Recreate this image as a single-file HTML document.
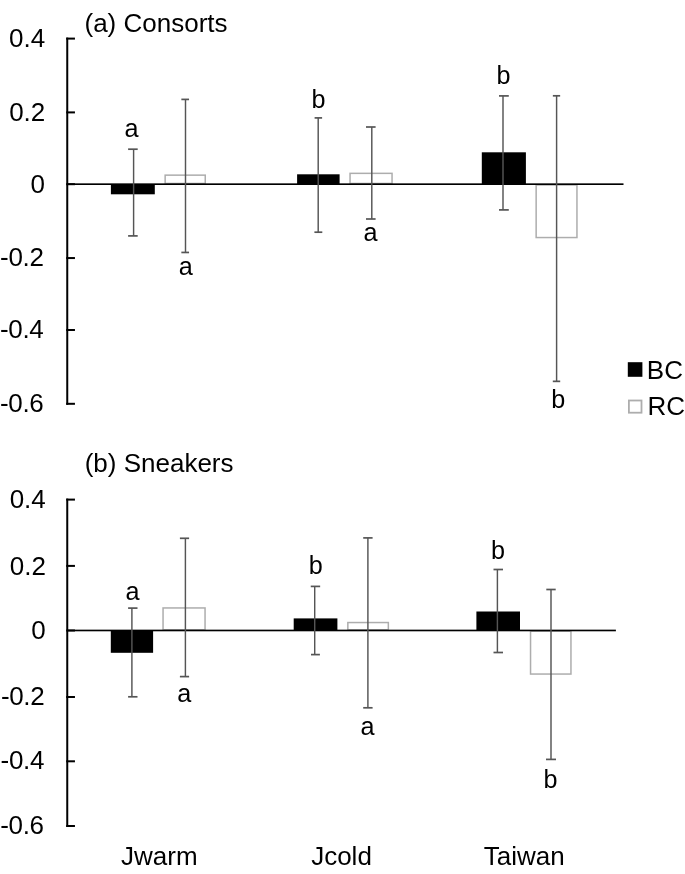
<!DOCTYPE html>
<html><head><meta charset="utf-8"><style>
html,body{margin:0;padding:0;background:#fff;}
svg{display:block;font-family:"Liberation Sans", sans-serif;will-change:transform;}
</style></head><body>
<svg width="685" height="874" viewBox="0 0 685 874" fill="#000">
<rect width="685" height="874" fill="#fff"/>
<rect x="66.25" y="37.60" width="2.00" height="367.20" fill="#000"/>
<rect x="66.25" y="37.60" width="8.70" height="2.00" fill="#000"/>
<rect x="66.25" y="111.40" width="8.70" height="2.00" fill="#000"/>
<rect x="66.25" y="183.20" width="8.70" height="2.00" fill="#000"/>
<rect x="66.25" y="257.05" width="8.70" height="2.00" fill="#000"/>
<rect x="66.25" y="329.00" width="8.70" height="2.00" fill="#000"/>
<rect x="66.25" y="402.80" width="8.70" height="2.00" fill="#000"/>
<text x="45.20" y="47.00" text-anchor="end" font-size="26">0.4</text>
<text x="45.30" y="120.65" text-anchor="end" font-size="26">0.2</text>
<text x="45.00" y="192.75" text-anchor="end" font-size="26">0</text>
<text x="43.90" y="266.30" text-anchor="end" font-size="26" textLength="43.80" lengthAdjust="spacing">-0.2</text>
<text x="43.80" y="338.35" text-anchor="end" font-size="26" textLength="43.80" lengthAdjust="spacing">-0.4</text>
<text x="43.80" y="411.60" text-anchor="end" font-size="26" textLength="43.80" lengthAdjust="spacing">-0.6</text>
<rect x="110.90" y="184.20" width="43.90" height="10.10" fill="#000"/>
<rect x="165.15" y="175.15" width="40.10" height="8.30" fill="#fff" stroke="#adadad" stroke-width="1.5"/>
<rect x="297.10" y="174.30" width="42.50" height="9.90" fill="#000"/>
<rect x="350.05" y="173.35" width="42.00" height="10.10" fill="#fff" stroke="#adadad" stroke-width="1.5"/>
<rect x="481.80" y="152.30" width="44.10" height="31.90" fill="#000"/>
<rect x="536.15" y="184.95" width="40.80" height="52.60" fill="#fff" stroke="#adadad" stroke-width="1.5"/>
<rect x="67.25" y="183.35" width="556.25" height="1.65" fill="#000"/>
<line x1="133.60" y1="149.20" x2="133.60" y2="235.90" stroke="#555555" stroke-width="1.45"/>
<line x1="128.10" y1="149.20" x2="137.70" y2="149.20" stroke="#555555" stroke-width="1.7"/>
<line x1="128.10" y1="235.90" x2="137.70" y2="235.90" stroke="#555555" stroke-width="1.7"/>
<line x1="185.50" y1="99.40" x2="185.50" y2="252.45" stroke="#555555" stroke-width="1.45"/>
<line x1="181.35" y1="99.40" x2="189.05" y2="99.40" stroke="#555555" stroke-width="1.7"/>
<line x1="181.35" y1="252.45" x2="189.05" y2="252.45" stroke="#555555" stroke-width="1.7"/>
<line x1="318.20" y1="117.90" x2="318.20" y2="232.20" stroke="#555555" stroke-width="1.45"/>
<line x1="314.60" y1="117.90" x2="322.10" y2="117.90" stroke="#555555" stroke-width="1.7"/>
<line x1="314.40" y1="232.20" x2="322.30" y2="232.20" stroke="#555555" stroke-width="1.7"/>
<line x1="371.80" y1="127.00" x2="371.80" y2="219.00" stroke="#555555" stroke-width="1.45"/>
<line x1="366.00" y1="127.00" x2="375.60" y2="127.00" stroke="#555555" stroke-width="1.7"/>
<line x1="366.00" y1="219.00" x2="375.60" y2="219.00" stroke="#555555" stroke-width="1.7"/>
<line x1="503.00" y1="95.90" x2="503.00" y2="209.90" stroke="#555555" stroke-width="1.45"/>
<line x1="499.00" y1="95.90" x2="508.80" y2="95.90" stroke="#555555" stroke-width="1.7"/>
<line x1="499.00" y1="209.90" x2="508.80" y2="209.90" stroke="#555555" stroke-width="1.7"/>
<line x1="556.60" y1="95.80" x2="556.60" y2="381.35" stroke="#555555" stroke-width="1.45"/>
<line x1="552.85" y1="95.80" x2="560.15" y2="95.80" stroke="#555555" stroke-width="1.7"/>
<line x1="552.80" y1="381.35" x2="560.20" y2="381.35" stroke="#555555" stroke-width="1.7"/>
<text x="131.40" y="136.90" text-anchor="middle" font-size="25.2">a</text>
<text x="185.80" y="275.00" text-anchor="middle" font-size="25.2">a</text>
<text x="318.40" y="107.80" text-anchor="middle" font-size="25.2">b</text>
<text x="370.50" y="240.60" text-anchor="middle" font-size="25.2">a</text>
<text x="503.50" y="83.80" text-anchor="middle" font-size="25.2">b</text>
<text x="558.20" y="408.00" text-anchor="middle" font-size="25.2">b</text>
<text x="84.50" y="31.80" text-anchor="start" font-size="26">(a) Consorts</text>
<rect x="66.25" y="498.60" width="2.00" height="328.40" fill="#000"/>
<rect x="66.25" y="498.60" width="8.70" height="2.00" fill="#000"/>
<rect x="66.25" y="564.90" width="8.70" height="2.00" fill="#000"/>
<rect x="66.25" y="629.50" width="8.70" height="2.00" fill="#000"/>
<rect x="66.25" y="696.00" width="8.70" height="2.00" fill="#000"/>
<rect x="66.25" y="760.30" width="8.70" height="2.00" fill="#000"/>
<rect x="66.25" y="825.00" width="8.70" height="2.00" fill="#000"/>
<text x="45.80" y="507.80" text-anchor="end" font-size="26">0.4</text>
<text x="46.00" y="574.55" text-anchor="end" font-size="26">0.2</text>
<text x="45.60" y="638.60" text-anchor="end" font-size="26">0</text>
<text x="44.70" y="704.95" text-anchor="end" font-size="26" textLength="43.80" lengthAdjust="spacing">-0.2</text>
<text x="44.40" y="769.20" text-anchor="end" font-size="26" textLength="43.80" lengthAdjust="spacing">-0.4</text>
<text x="44.00" y="834.35" text-anchor="end" font-size="26" textLength="43.80" lengthAdjust="spacing">-0.6</text>
<rect x="110.80" y="630.50" width="42.30" height="22.30" fill="#000"/>
<rect x="163.05" y="607.95" width="42.00" height="21.80" fill="#fff" stroke="#adadad" stroke-width="1.5"/>
<rect x="293.70" y="618.40" width="43.70" height="12.10" fill="#000"/>
<rect x="347.85" y="622.55" width="40.50" height="7.20" fill="#fff" stroke="#adadad" stroke-width="1.5"/>
<rect x="476.40" y="611.50" width="43.60" height="19.00" fill="#000"/>
<rect x="530.55" y="631.25" width="40.40" height="42.80" fill="#fff" stroke="#adadad" stroke-width="1.5"/>
<rect x="67.25" y="629.65" width="548.65" height="1.65" fill="#000"/>
<line x1="131.90" y1="608.10" x2="131.90" y2="696.80" stroke="#555555" stroke-width="1.45"/>
<line x1="128.10" y1="608.10" x2="137.50" y2="608.10" stroke="#555555" stroke-width="1.7"/>
<line x1="128.10" y1="696.80" x2="137.50" y2="696.80" stroke="#555555" stroke-width="1.7"/>
<line x1="185.40" y1="538.30" x2="185.40" y2="676.60" stroke="#555555" stroke-width="1.45"/>
<line x1="179.90" y1="538.30" x2="189.10" y2="538.30" stroke="#555555" stroke-width="1.7"/>
<line x1="179.90" y1="676.60" x2="189.10" y2="676.60" stroke="#555555" stroke-width="1.7"/>
<line x1="314.70" y1="586.40" x2="314.70" y2="654.60" stroke="#555555" stroke-width="1.45"/>
<line x1="310.75" y1="586.40" x2="320.15" y2="586.40" stroke="#555555" stroke-width="1.7"/>
<line x1="311.00" y1="654.60" x2="319.90" y2="654.60" stroke="#555555" stroke-width="1.7"/>
<line x1="367.90" y1="537.90" x2="367.90" y2="707.80" stroke="#555555" stroke-width="1.45"/>
<line x1="363.20" y1="537.90" x2="372.60" y2="537.90" stroke="#555555" stroke-width="1.7"/>
<line x1="363.20" y1="707.80" x2="372.60" y2="707.80" stroke="#555555" stroke-width="1.7"/>
<line x1="497.40" y1="569.50" x2="497.40" y2="652.50" stroke="#555555" stroke-width="1.45"/>
<line x1="493.50" y1="569.50" x2="503.00" y2="569.50" stroke="#555555" stroke-width="1.7"/>
<line x1="493.50" y1="652.50" x2="503.00" y2="652.50" stroke="#555555" stroke-width="1.7"/>
<line x1="551.00" y1="589.50" x2="551.00" y2="759.40" stroke="#555555" stroke-width="1.45"/>
<line x1="546.30" y1="589.50" x2="555.70" y2="589.50" stroke="#555555" stroke-width="1.7"/>
<line x1="546.00" y1="759.40" x2="556.00" y2="759.40" stroke="#555555" stroke-width="1.7"/>
<text x="132.60" y="599.70" text-anchor="middle" font-size="25.2">a</text>
<text x="184.30" y="702.30" text-anchor="middle" font-size="25.2">a</text>
<text x="315.80" y="574.30" text-anchor="middle" font-size="25.2">b</text>
<text x="367.50" y="735.00" text-anchor="middle" font-size="25.2">a</text>
<text x="498.10" y="559.00" text-anchor="middle" font-size="25.2">b</text>
<text x="550.50" y="788.40" text-anchor="middle" font-size="25.2">b</text>
<text x="84.70" y="472.00" text-anchor="start" font-size="26">(b) Sneakers</text>
<text x="159.30" y="865.40" text-anchor="middle" font-size="26">Jwarm</text>
<text x="341.50" y="865.40" text-anchor="middle" font-size="26">Jcold</text>
<text x="524.20" y="865.40" text-anchor="middle" font-size="26">Taiwan</text>
<rect x="627.80" y="362.20" width="14.60" height="14.60" fill="#000"/>
<rect x="628.90" y="400.50" width="12.60" height="12.20" fill="#fff" stroke="#adadad" stroke-width="1.8"/>
<text x="646.80" y="378.80" text-anchor="start" font-size="26">BC</text>
<text x="647.60" y="415.00" text-anchor="start" font-size="26">RC</text>
</svg>
</body></html>
